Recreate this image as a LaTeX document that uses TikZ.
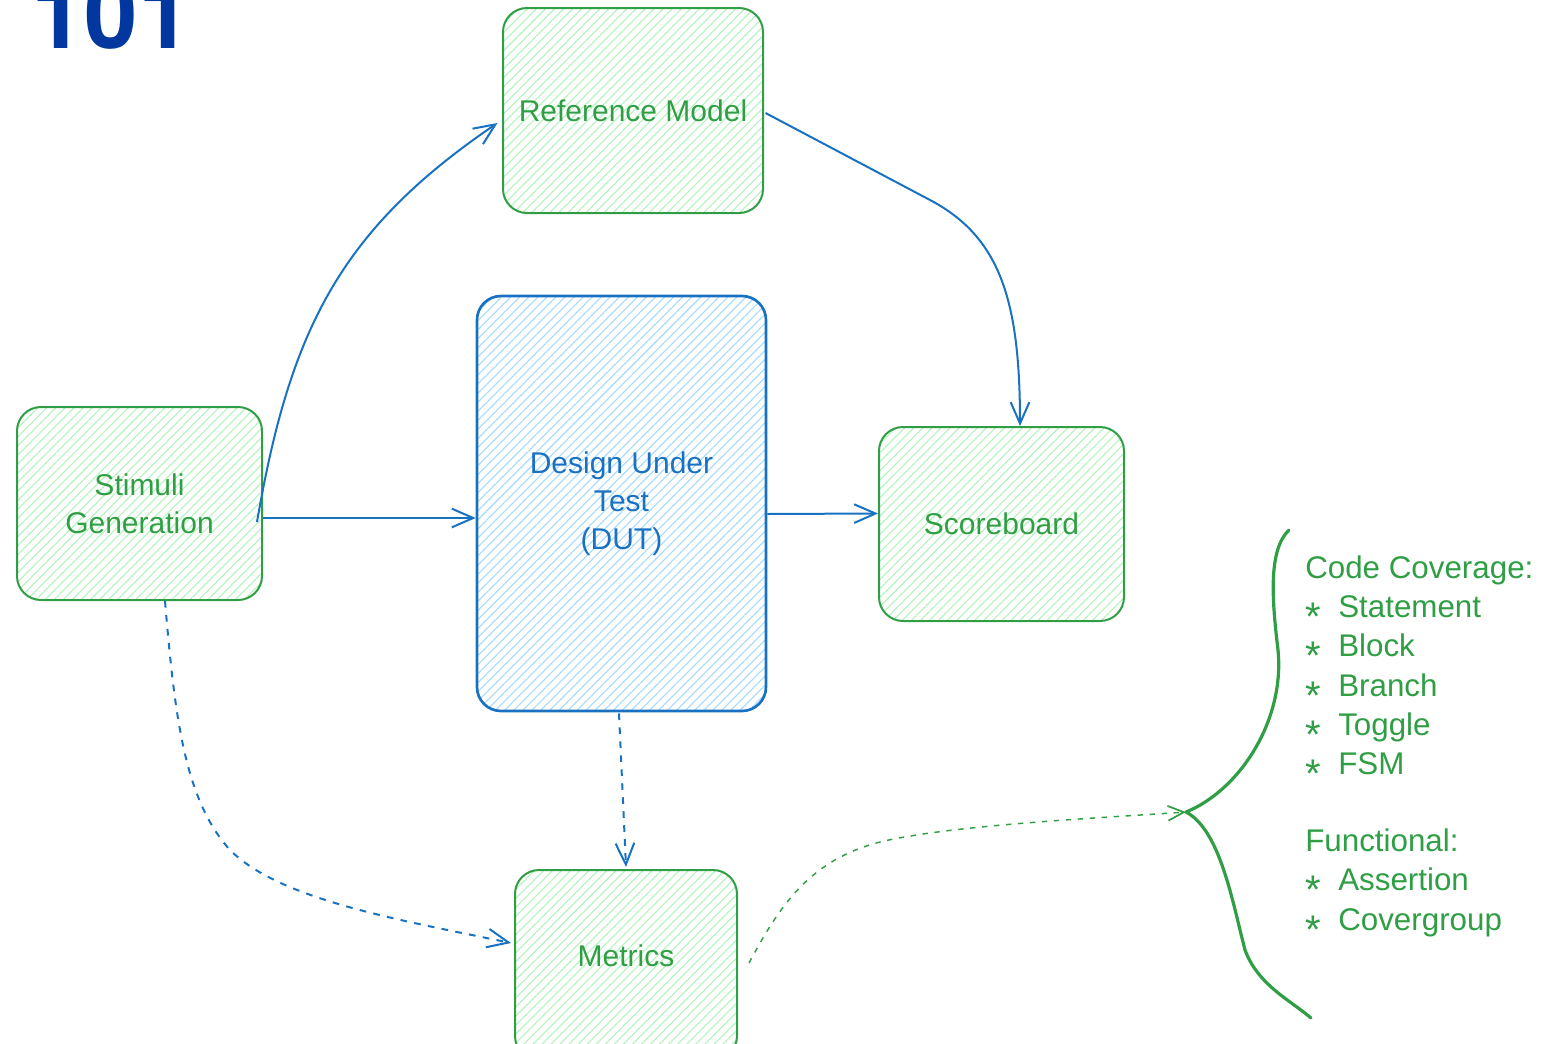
\documentclass[tikz,border=0pt]{standalone}
\usepackage{fontspec}
\setmainfont{Liberation Sans}
\newfontfamily\titlefont{TeX Gyre Heros}
\usetikzlibrary{arrows.meta,patterns.meta,calc}
\definecolor{sgreen}{RGB}{47,158,68}
\definecolor{hgreen}{RGB}{178,242,187}
\definecolor{sblue}{RGB}{25,113,194}
\definecolor{hblue}{RGB}{165,216,255}
\definecolor{tblue}{RGB}{3,55,160}
\newcommand\bulstar{\makebox[24.75pt][l]{\raisebox{-10pt}{\fontsize{30pt}{30pt}\selectfont *}}}
\begin{document}
\begin{tikzpicture}[x=0.75pt,y=-0.75pt,
  box/.style={rounded corners=18pt, align=center, inner sep=0pt,
    font=\fontsize{22.5pt}{28.5pt}\selectfont},
  greenbox/.style={box, draw=sgreen, line width=1.5pt, text=sgreen,
    pattern={Lines[angle=45,distance=4.8pt,line width=0.8pt]}, pattern color=hgreen},
  bluebox/.style={box, draw=sblue, line width=2pt, text=sblue,
    pattern={Lines[angle=45,distance=4.8pt,line width=0.8pt]}, pattern color=hblue},
  conn/.style={draw=sblue, line width=1.5pt,
    -{Straight Barb[length=16pt,width=14pt,line width=1.5pt]}},
  dconn/.style={conn, dash pattern=on 5pt off 5.5pt},
  gconn/.style={draw=sgreen, line width=1.1pt, dash pattern=on 4pt off 5pt,
    -{Straight Barb[length=12pt,width=11pt,line width=1.3pt]}},
  brace/.style={draw=sgreen, line width=2.4pt, line cap=round, line join=round},
  listtext/.style={anchor=base west, inner sep=0pt, text=sgreen,
    font=\fontsize{23.5pt}{28pt}\selectfont},
  titletext/.style={anchor=base west, inner sep=0pt, text=tblue,
    font=\titlefont\fontsize{72pt}{72pt}\selectfont\bfseries}
]
\useasboundingbox (0,0) rectangle (1567,1043);
\begin{scope}
\clip (0,0) rectangle (1567,1043);

\node[titletext] (title) at (31,48) {101};

\node[greenbox, minimum width={0.75pt*260}, minimum height={0.75pt*205}] (ref) at (633,110.5) {Reference Model};
\node[bluebox, minimum width={0.75pt*289}, minimum height={0.75pt*415}] (dut) at (621.5,503.5) {Design Under\\Test\\(DUT)};
\node[greenbox, minimum width={0.75pt*245}, minimum height={0.75pt*193}] (stim) at (139.5,503.5) {Stimuli\\Generation};
\node[greenbox, minimum width={0.75pt*245}, minimum height={0.75pt*194}] (score) at (1001.5,524) {Scoreboard};
\node[greenbox, minimum width={0.75pt*222}, minimum height={0.75pt*190}] (metrics) at (626,965) {};
\node[box, text=sgreen] (mlabel) at (626,956) {Metrics};

% connectors
\draw[conn] ($(stim.east)+(-6,18.5)$) .. controls (290,330) and (340,230) .. ($(ref.west)+(-5,12.5)$);
\draw[conn] ($(stim.east)+(0,14.5)$) -- ($(dut.west)+(0,14.5)$);
\draw[conn] ($(ref.east)+(2,2.5)$) -- (930,200) .. controls (1000,237) and (1020,300) .. ($(score.north)+(18.5,0)$);
\draw[conn] ($(dut.east)+(0,10.5)$) -- ($(score.west)+(0,-10.5)$);
\draw[dconn] ($(dut.south)+(-2.5,1)$) -- ($(metrics.north)+(0,-2)$);
\draw[dconn] ($(stim.south)+(25.5,0)$) .. controls (175,720) and (185,800) .. (230,850) .. controls (280,900) and (400,920) .. ($(metrics.west)+(-3,-22)$);

% brace
\coordinate (tip) at (1186,812);
\draw[brace] (1289,530) .. controls (1268,550) and (1272,600) .. (1278,650) .. controls (1285,720) and (1240,790) .. (tip) .. controls (1220,830) and (1232,900) .. (1245,950) .. controls (1258,985) and (1290,1000) .. (1311,1018);

\draw[gconn] ($(metrics.east)+(11,-2)$) .. controls (780,905) and (810,860) .. (880,842) .. controls (950,825) and (1100,818) .. (tip);

% list
\node[listtext] (l1) at (1305,578) {Code Coverage:};
\node[listtext] (l2) at (1305,617) {\bulstar Statement};
\node[listtext] (l3) at (1305,656) {\bulstar Block};
\node[listtext] (l4) at (1305,696) {\bulstar Branch};
\node[listtext] (l5) at (1305,735) {\bulstar Toggle};
\node[listtext] (l6) at (1305,774) {\bulstar FSM};
\node[listtext] (l7) at (1305,851) {Functional:};
\node[listtext] (l8) at (1305,890) {\bulstar Assertion};
\node[listtext] (l9) at (1305,930) {\bulstar Covergroup};
\end{scope}
\end{tikzpicture}
\end{document}
